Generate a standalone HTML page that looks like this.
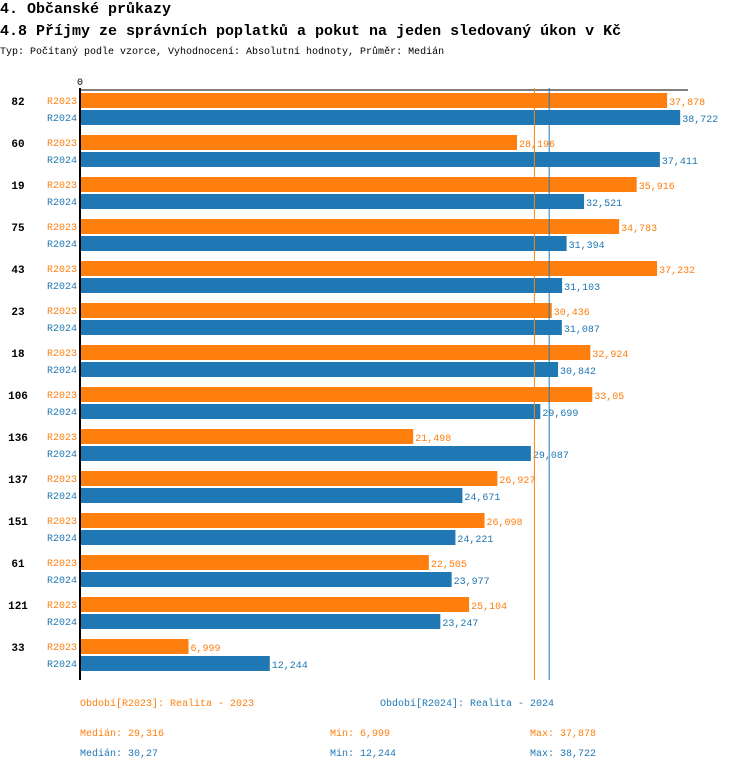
<!DOCTYPE html>
<html><head><meta charset="utf-8"><style>
body{margin:0;background:#fff;font-family:"Liberation Mono",monospace;}
svg text{font-family:"Liberation Mono",monospace;}
</style></head><body>
<svg id="c" width="750" height="770">
<text x="0" y="13" font-size="15" font-weight="bold">4. Občanské průkazy</text>
<text x="0" y="35" font-size="15" font-weight="bold">4.8 Příjmy ze správních poplatků a pokut na jeden sledovaný úkon v Kč</text>
<text x="0" y="54" font-size="10">Typ: Počítaný podle vzorce, Vyhodnocení: Absolutní hodnoty, Průměr: Medián</text>
<text x="80" y="85" font-size="10" text-anchor="middle">0</text>
<g id="bars"></g>
<line x1="80" y1="88" x2="80" y2="680" stroke="#000" stroke-width="2"/>
<line x1="80" y1="90" x2="688" y2="90" stroke="#000" stroke-width="1"/>
<g id="med"></g>
<text x="80" y="706" font-size="10" fill="#ff7f0e">Období[R2023]: Realita - 2023</text>
<text x="380" y="706" font-size="10" fill="#1f77b4">Období[R2024]: Realita - 2024</text>
<text x="80" y="736" font-size="10" fill="#ff7f0e">Medián: 29,316</text>
<text x="330" y="736" font-size="10" fill="#ff7f0e">Min: 6,999</text>
<text x="530" y="736" font-size="10" fill="#ff7f0e">Max: 37,878</text>
<text x="80" y="756" font-size="10" fill="#1f77b4">Medián: 30,27</text>
<text x="330" y="756" font-size="10" fill="#1f77b4">Min: 12,244</text>
<text x="530" y="756" font-size="10" fill="#1f77b4">Max: 38,722</text>
</svg>
<script>
const categories=["82","60","19","75","43","23","18","106","136","137","151","61","121","33"];
const r2023=[37878,28196,35916,34783,37232,30436,32924,33050,21498,26927,26098,22505,25104,6999];
const r2024=[38722,37411,32521,31394,31103,31087,30842,29699,29087,24671,24221,23977,23247,12244];
const r2023Labels=["37,878","28,196","35,916","34,783","37,232","30,436","32,924","33,05","21,498","26,927","26,098","22,505","25,104","6,999"];
const r2024Labels=["38,722","37,411","32,521","31,394","31,103","31,087","30,842","29,699","29,087","24,671","24,221","23,977","23,247","12,244"];
const medians=[29316,30270];
const NS="http://www.w3.org/2000/svg";
const x=v=>80+v*0.01550;
const y=i=>93+i*42;
const g=document.getElementById('bars');
function mk(t,a){const e=document.createElementNS(NS,t);for(const k in a)e.setAttribute(k,a[k]);return e;}
const series=[[r2023,r2023Labels,"#ff7f0e","R2023",0],[r2024,r2024Labels,"#1f77b4","R2024",17]];
categories.forEach((c,i)=>{
 const t=mk('text',{x:18,y:y(i)+12,'font-size':11,'font-weight':'bold','text-anchor':'middle'});
 t.textContent=c;
 
 
 g.appendChild(t);
 series.forEach(s=>{
  const by=y(i)+s[4];
  const r=mk('rect',{x:81,y:by,width:x(s[0][i])-81,height:15,fill:s[2]});
  
  
  g.appendChild(r);
  const l=mk('text',{x:77,y:by+11,'font-size':10,fill:s[2],'text-anchor':'end'});
  l.textContent=s[3];
  
  
  g.appendChild(l);
  const v=mk('text',{x:x(s[0][i])+2,y:by+12,'font-size':10,fill:s[2]});
  v.textContent=s[1][i];
  
  
  g.appendChild(v);
 });
});
const m=document.getElementById('med');
medians.forEach((v,k)=>{
 const l=mk('line',{x1:x(v),x2:x(v),y1:88,y2:680,stroke:k?"#1f77b4":"#ff7f0e","stroke-width":1});
 
 
 m.appendChild(l);
});
</script>
</body></html>
